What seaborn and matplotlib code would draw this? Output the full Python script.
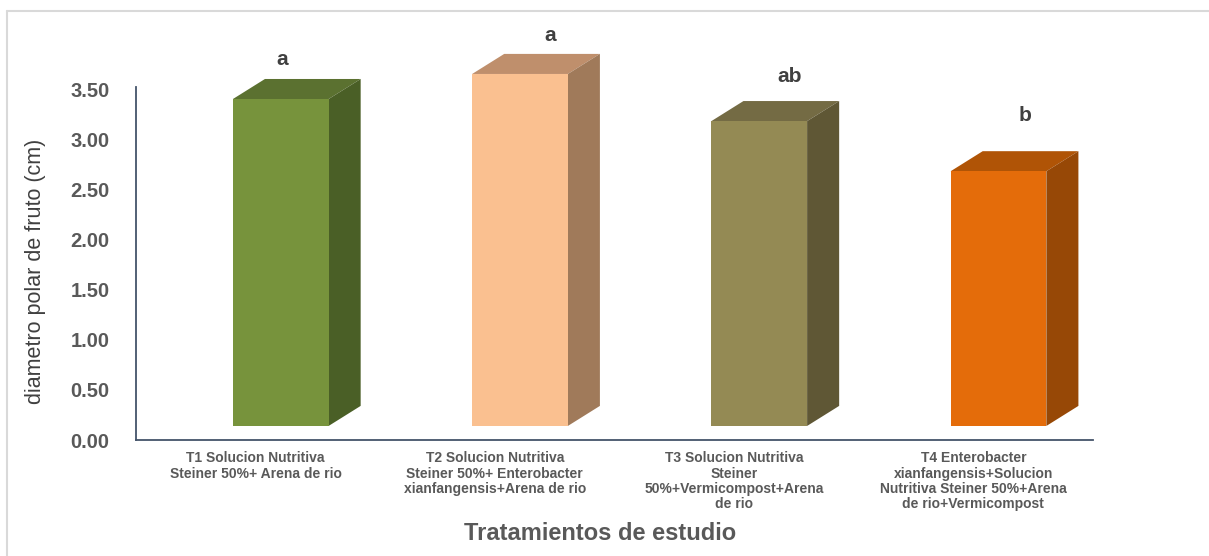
import numpy as np
import pandas as pd
import matplotlib
matplotlib.use("Agg")
import matplotlib.pyplot as plt
from matplotlib.patches import Polygon
from matplotlib.lines import Line2D
import seaborn as sns

# Treatments and mean polar fruit diameter (cm)
categories = [
    "T1 Solucion Nutritiva\nSteiner 50%+ Arena de rio",
    "T2 Solucion Nutritiva\nSteiner 50%+ Enterobacter\nxianfangensis+Arena de rio",
    "T3 Solucion Nutritiva\nSteiner\n50%+Vermicompost+Arena\nde rio",
    "T4 Enterobacter\nxianfangensis+Solucion\nNutritiva Steiner 50%+Arena\nde rio+Vermicompost",
]
values = [3.26, 3.51, 3.04, 2.54]
letters = ["a", "a", "ab", "b"]
yticks = [0.0, 0.5, 1.0, 1.5, 2.0, 2.5, 3.0, 3.5]

# Face colours of each 3D column: front, top, side
front_colors = ["#77933C", "#FAC090", "#948A54", "#E46C0A"]
top_colors = ["#5B7130", "#BF8F6C", "#746B44", "#B05406"]
side_colors = ["#4A5F26", "#A07A5A", "#5F5735", "#974806"]

# Column styling: floor offset, horizontal shift and extrusion depth
FLOOR = 0.14
SHIFT = 0.105
DEPTH_X = 0.134
DEPTH_Y = 0.20
# Letter placement relative to each column
letter_dx = [0.11, 0.23, 0.234, 0.216]
letter_dy = [0.14, 0.13, 0.19, 0.30]

sns.set_theme(style="white")
plt.rcParams["font.family"] = ["Liberation Sans", "DejaVu Sans"]

fig = plt.figure(figsize=(12.09, 5.56), dpi=100)
ax = fig.add_axes([136 / 1209, 1 - 440 / 556, (1093 - 136) / 1209, (440 - 87) / 556])

df = pd.DataFrame({"trat": categories, "valor": values})
sns.barplot(data=df, x="trat", y="valor", hue="trat", palette=front_colors,
            saturation=1, legend=False, width=0.40, bottom=FLOOR, ax=ax,
            edgecolor="none", linewidth=0, zorder=3)

patches = sorted(ax.patches, key=lambda p: p.get_x())
for i, p in enumerate(patches):
    p.set_x(p.get_x() + SHIFT)
    p.set_clip_on(False)
    x0 = p.get_x()
    x1 = x0 + p.get_width()
    y0 = p.get_y()
    y1 = y0 + p.get_height()
    top = Polygon([(x0, y1), (x1, y1), (x1 + DEPTH_X, y1 + DEPTH_Y), (x0 + DEPTH_X, y1 + DEPTH_Y)],
                  closed=True, facecolor=top_colors[i], edgecolor="none", zorder=2, clip_on=False)
    side = Polygon([(x1, y0), (x1 + DEPTH_X, y0 + DEPTH_Y), (x1 + DEPTH_X, y1 + DEPTH_Y), (x1, y1)],
                   closed=True, facecolor=side_colors[i], edgecolor="none", zorder=2, clip_on=False)
    ax.add_patch(top)
    ax.add_patch(side)
    ax.text(i + letter_dx[i], y1 + DEPTH_Y + letter_dy[i], letters[i],
            ha="center", va="baseline", fontsize=15, fontweight="bold",
            color="#404040", clip_on=False)

ax.set_xlim(-0.5, 3.5)
ax.set_ylim(0, 3.52)
ax.set_yticks(yticks)
ax.set_yticklabels([f"{v:.2f}" for v in yticks], fontsize=14.5, fontweight="bold", color="#595959")
ax.tick_params(axis="y", length=0, pad=19)
ax.tick_params(axis="x", length=0, pad=8)
for lbl in ax.get_xticklabels():
    lbl.set_fontsize(10)
    lbl.set_fontweight("bold")
    lbl.set_color("#595959")
    lbl.set_linespacing(1.13)
    lbl.set_verticalalignment("top")

ax.set_ylabel("diametro polar de fruto (cm)", fontsize=15.5, color="#404040")
ax.yaxis.set_label_coords(-(136 - 46) / 957, (440 - 271) / 353)
ax.set_xlabel("Tratamientos de estudio", fontsize=17, fontweight="bold", color="#595959")
ax.xaxis.set_label_coords(0.5 - 14 / 957, -0.232)

for side_name in ["top", "right"]:
    ax.spines[side_name].set_visible(False)
for side_name in ["left", "bottom"]:
    ax.spines[side_name].set_color("#44546A")
    ax.spines[side_name].set_linewidth(1.3)
ax.grid(False)

# Light frame around the chart area
fig.add_artist(Line2D([7 / 1209, 1.0], [1 - 11 / 556, 1 - 11 / 556], transform=fig.transFigure,
                      color="#D9D9D9", linewidth=1.5))
fig.add_artist(Line2D([7 / 1209, 7 / 1209], [0.0, 1 - 11 / 556], transform=fig.transFigure,
                      color="#D9D9D9", linewidth=1.5))

fig.savefig("out.png", dpi=100)
